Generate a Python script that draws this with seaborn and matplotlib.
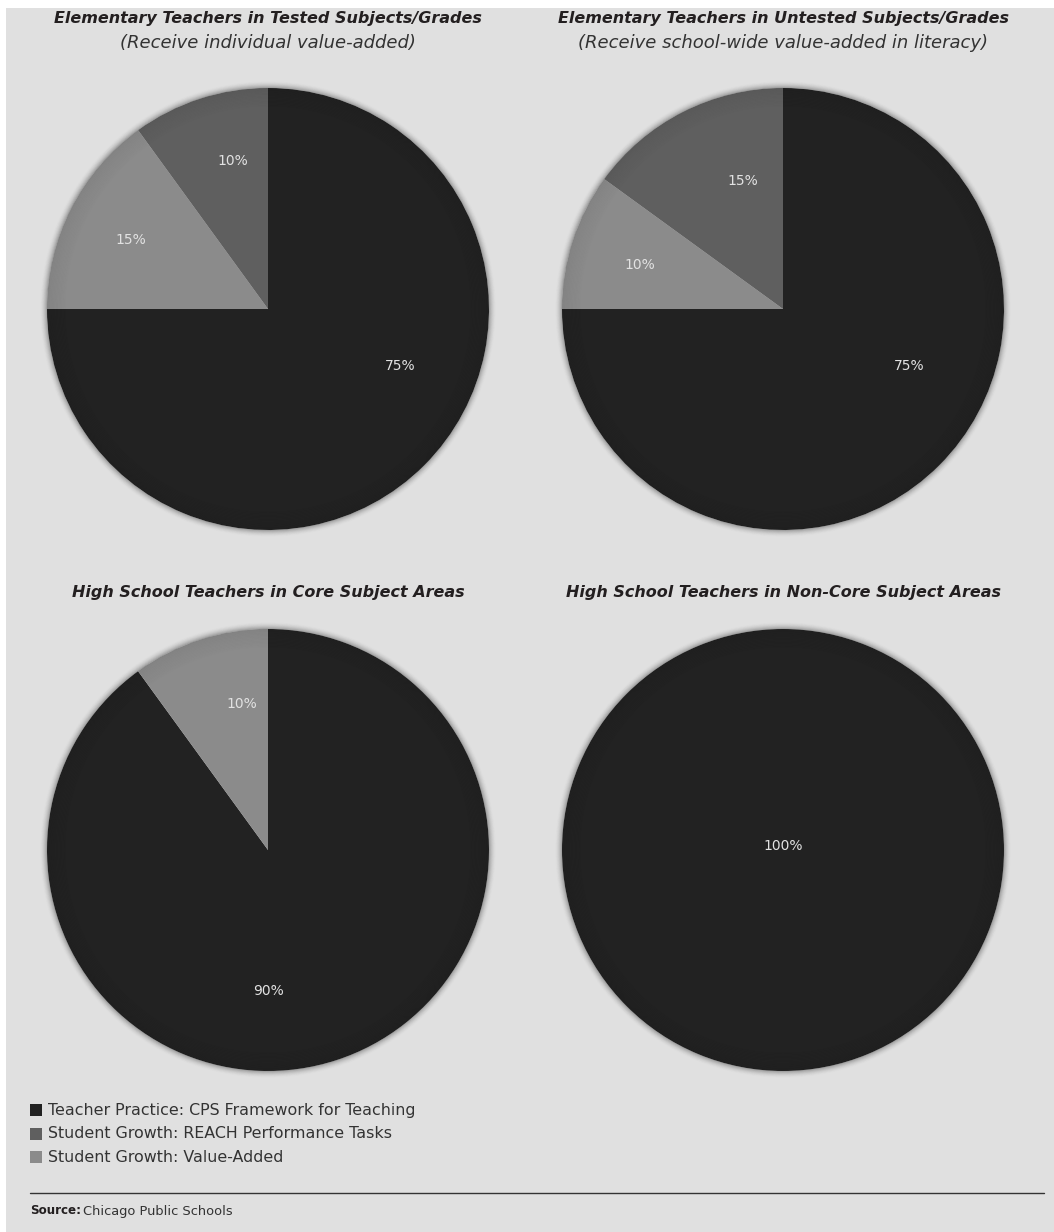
import matplotlib
matplotlib.use("Agg")
import matplotlib.pyplot as plt
import seaborn as sns
import numpy as np
from matplotlib.patches import Wedge, Rectangle
from matplotlib.lines import Line2D

sns.set_theme(style="white")
plt.rcParams['font.family'] = ['DejaVu Sans']

# ---------------- data ----------------
categories = ["Teacher Practice: CPS Framework for Teaching",
              "Student Growth: REACH Performance Tasks",
              "Student Growth: Value-Added"]
titles = ["Elementary Teachers in Tested Subjects/Grades",
          "Elementary Teachers in Untested Subjects/Grades",
          "High School Teachers in Core Subject Areas",
          "High School Teachers in Non-Core Subject Areas"]
subtitles = ["(Receive individual value-added)",
             "(Receive school-wide value-added in literacy)",
             None, None]
# slice order clockwise from 12 o'clock: Teacher Practice, Value-Added, REACH
tested_values = [75, 15, 10]
untested_values = [75, 10, 15]
hs_core_values = [90, 10, 0]
hs_noncore_values = [100, 0, 0]
all_values = [tested_values, untested_values, hs_core_values, hs_noncore_values]
slice_cats = [0, 2, 1]  # category index of each slice position
source_text = "Chicago Public Schools"

# ---------------- style ----------------
BG = "#e0e0e0"
cat_colors = ["#222222", "#5f5f5f", "#8b8b8b"]
TXT = "#231f20"

W, H = 1054, 1232
fig = plt.figure(figsize=(W / 100, H / 100), dpi=100, facecolor="white")
# gray panel (white strip top / left)
fig.patches.append(Rectangle((6 / W, 0), 1 - 6 / W, 1 - 8 / H, transform=fig.transFigure,
                             facecolor=BG, edgecolor="none", zorder=-5))

R = 221
centers = [(268, 309), (783, 309), (268, 850), (783, 850)]
# label offsets (in radius units, +y up) for each slice position
label_pos = [
    [(0.60, -0.26), (-0.62, 0.31), (-0.16, 0.67)],
    [(0.57, -0.26), (-0.65, 0.20), (-0.18, 0.58)],
    [(0.0, -0.64), (-0.12, 0.66), None],
    [(0.0, 0.02), None, None],
]

for i, (vals, (cx, cy)) in enumerate(zip(all_values, centers)):
    pad = 12
    ax = fig.add_axes([(cx - R - pad) / W, 1 - (cy + R + pad) / H,
                       2 * (R + pad) / W, 2 * (R + pad) / H])
    ax.set_facecolor("none")
    ax.set_zorder(2)
    lim = (R + pad) / R
    nz = [(v, cat_colors[slice_cats[k]], k) for k, v in enumerate(vals) if v > 0]
    wedges, _ = ax.pie([v for v, _, _ in nz], colors=[c for _, c, _ in nz],
                       startangle=90, counterclock=False, radius=1,
                       wedgeprops=dict(linewidth=0, antialiased=True))
    ax.set_xlim(-lim, lim)
    ax.set_ylim(-lim, lim)
    ax.set_aspect("equal")
    ax.axis("off")
    # soft outer blur
    n = 8
    for j in range(n):
        r0 = 1 + j * 0.004
        ax.add_patch(Wedge((0, 0), r0 + 0.004, 0, 360, width=0.004,
                           facecolor="#222222", alpha=0.35 * (1 - j / n) ** 2,
                           linewidth=0))
    # inner vignette
    m = 14
    for j in range(m):
        r1 = 1 - j * 0.006
        ax.add_patch(Wedge((0, 0), r1, 0, 360, width=0.006,
                           facecolor="black", alpha=0.05 * (1 - j / m),
                           linewidth=0))
    for k, v in enumerate(vals):
        if v > 0 and label_pos[i][k] is not None:
            lx, ly = label_pos[i][k]
            ax.text(lx, ly, f"{v}%", ha="center", va="center",
                    color="#e2e2e2", fontsize=10)

# titles
for i, (cx, cy) in enumerate(centers):
    ty = 18 if i < 2 else 593
    fig.text(cx / W, 1 - ty / H, titles[i], ha="center", va="center",
             fontsize=11.5, fontweight="bold", fontstyle="italic", color=TXT)
    if subtitles[i]:
        fig.text(cx / W, 1 - 43 / H, subtitles[i], ha="center", va="center",
                 fontsize=13, fontstyle="italic", color="#333333")

# legend
leg_y = [1110, 1134, 1157]
for k, (lab, ly) in enumerate(zip(categories, leg_y)):
    fig.patches.append(Rectangle((30 / W, 1 - (ly + 6) / H), 12 / W, 12 / H,
                                 transform=fig.transFigure,
                                 facecolor=cat_colors[k], edgecolor="none"))
    fig.text(48 / W, 1 - ly / H, lab, ha="left", va="center",
             fontsize=11.4, color="#333333")

fig.add_artist(Line2D([30 / W, 1044 / W], [1 - 1193 / H, 1 - 1193 / H],
                      transform=fig.transFigure, color="#333333", linewidth=1))
fig.text(30 / W, 1 - 1211 / H, "Source:", ha="left", va="center",
         fontsize=8.6, fontweight="bold", color=TXT)
fig.text(83 / W, 1 - 1211 / H, source_text, ha="left", va="center",
         fontsize=9.4, color="#333333")

fig.savefig("out.png", dpi=100, facecolor="white")
